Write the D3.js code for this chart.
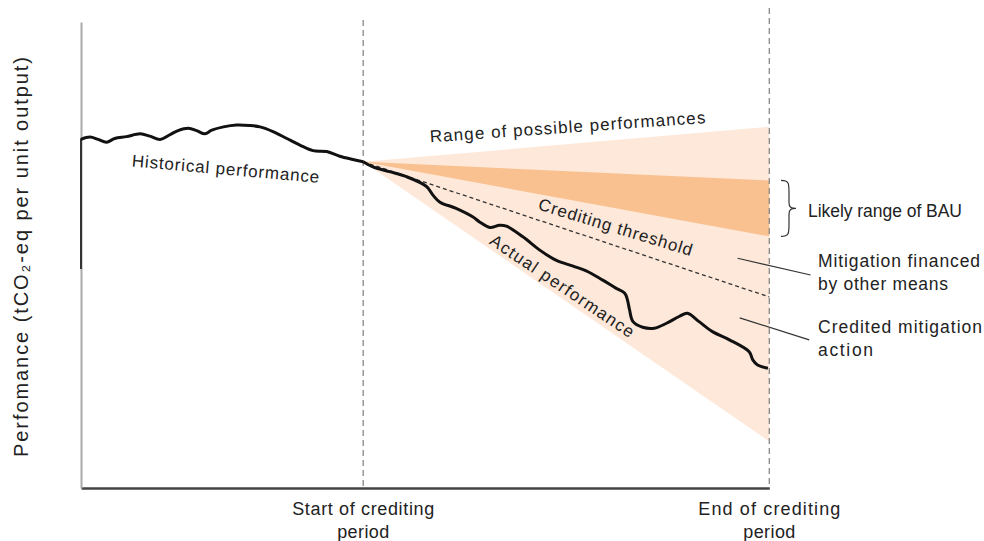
<!DOCTYPE html>
<html>
<head>
<meta charset="utf-8">
<script src="https://cdn.jsdelivr.net/npm/d3@7"></script>
<style>
  body { margin: 0; background: #fff; }
  text { font-family: "Liberation Sans", Arial, sans-serif; fill: #222; }
</style>
</head>
<body>
<svg id="drawing_region"></svg>
<script>
// time (0 = first observation, 100 = end of crediting period) vs performance
const historical = [
  [0, 74.8], [1.3, 75.3], [2.5, 74.8], [3.7, 74.2], [4.9, 75.0], [6.6, 75.4],
  [8.6, 76.0], [10.0, 75.5], [11.5, 74.8], [12.9, 75.8], [14.1, 76.7], [15.6, 77.2],
  [16.8, 76.7], [18.0, 76.0], [19.0, 76.8], [20.7, 77.5], [22.6, 77.9], [24.5, 77.8],
  [26.0, 77.5], [27.9, 76.5], [29.9, 75.0], [31.8, 73.6], [33.7, 72.4], [35.7, 72.2],
  [37.6, 71.2], [39.5, 70.5], [41.0, 70.0]
];
const actual = [
  [41.0, 70.0], [42.4, 68.9], [44.8, 67.9], [47.3, 66.8], [50.2, 64.7], [51.1, 62.9],
  [52.1, 61.4], [54.5, 60.0], [56.9, 58.2], [57.9, 57.1], [59.4, 55.9], [60.8, 56.4],
  [61.8, 56.2], [64.2, 53.9], [66.6, 51.1], [69.0, 48.9], [71.5, 47.6], [73.4, 46.6],
  [75.8, 44.6], [77.7, 42.9], [79.0, 41.8], [79.4, 40.3], [79.7, 38.2], [80.2, 35.7],
  [81.6, 34.5], [83.3, 34.3], [85.0, 35.3], [86.9, 36.8], [88.1, 37.5], [89.8, 35.7],
  [91.8, 33.5], [94.2, 31.8], [97.1, 29.2], [97.6, 27.5], [98.3, 26.4], [99.8, 25.7]
];
const crediting_start = 41;
const crediting_end = 100;
const origin = [41, 70];
const range_end = [77.5, 10];      // top, bottom of possible performances at end
const bau_end = [66, 54];          // likely range of BAU at end
const threshold_end = 41;
const x_labels = ["Start of crediting", "period", "End of crediting", "period"];
const y_label = "Perfomance (tCO\u2082-eq per unit output)";

const W = 984, H = 541;
const margin = {top: 22, right: 214, bottom: 53, left: 81};

const svg = d3.select('#drawing_region')
    .attr('width', W)
    .attr('height', H);

const xscale = d3.scaleLinear().domain([0, 100]).range([margin.left, W - margin.right - 0.7]);
const yscale = d3.scaleLinear().domain([0, 100]).range([H - margin.bottom, margin.top]);
const y0 = yscale(0);

// fan: range of possible performances
const area_pts = (top, bottom) => [origin, [crediting_end, top], [crediting_end, bottom]];
const poly = d3.line().x(d => xscale(d[0])).y(d => yscale(d[1]));

svg.append('path')
    .attr('d', poly(area_pts(range_end[0], range_end[1])) + 'Z')
    .attr('fill', '#fde8d9');

svg.append('path')
    .attr('d', poly(area_pts(bau_end[0], bau_end[1])) + 'Z')
    .attr('fill', '#f9c18f');

// crediting threshold
svg.append('path')
    .attr('d', poly([origin, [crediting_end, threshold_end]]))
    .attr('stroke', '#333')
    .attr('stroke-width', 1.3)
    .attr('stroke-dasharray', '4,3')
    .attr('fill', 'none');

// vertical dashed lines
svg.append('line')
    .attr('x1', xscale(crediting_start)).attr('x2', xscale(crediting_start))
    .attr('y1', 20).attr('y2', y0)
    .attr('stroke', '#888').attr('stroke-width', 1.3).attr('stroke-dasharray', '6,4');
svg.append('line')
    .attr('x1', xscale(crediting_end)).attr('x2', xscale(crediting_end))
    .attr('y1', 8).attr('y2', y0)
    .attr('stroke', '#888').attr('stroke-width', 1.3).attr('stroke-dasharray', '6,4');

// axes (no ticks)
const xaxis = d3.axisBottom(xscale).ticks(0).tickSizeOuter(0);
const yaxis = d3.axisLeft(yscale).ticks(0).tickSizeOuter(0);
const xg = svg.append('g').attr('transform', `translate(0, ${y0})`).call(xaxis);
xg.select('.domain').attr('stroke', '#444').attr('stroke-width', 2.5);
const yg = svg.append('g').attr('transform', `translate(${margin.left}, 0)`).call(yaxis);
yg.select('.domain').attr('stroke', '#aaa').attr('stroke-width', 2);
// darker stretch of the y axis, as in the original
svg.append('line')
    .attr('x1', margin.left).attr('x2', margin.left)
    .attr('y1', yscale(75)).attr('y2', yscale(47))
    .attr('stroke', '#333').attr('stroke-width', 2);

// performance lines
const curve = d3.line()
    .x(d => xscale(d[0]))
    .y(d => yscale(d[1]))
    .curve(d3.curveCatmullRom);

svg.append('path')
    .attr('d', curve(historical))
    .attr('stroke', '#111').attr('stroke-width', 3).attr('fill', 'none')
    .attr('stroke-linejoin', 'round');
svg.append('path')
    .attr('d', curve(actual))
    .attr('stroke', '#111').attr('stroke-width', 3).attr('fill', 'none')
    .attr('stroke-linejoin', 'round');

// in-plot labels
const inner = [
  {t: "Historical performance", x: 21.0, y: 68.2, r: 5, len: 188},
  {t: "Range of possible performances", x: 70.7, y: 77.2, r: -4, len: 276},
  {t: "Crediting threshold", x: 77.6, y: 55.7, r: 17, len: 160},
  {t: "Actual performance", x: 69.8, y: 43.1, r: 34, len: 170}
];
inner.forEach(d => {
  const px = xscale(d.x), py = yscale(d.y);
  svg.append('text')
      .attr('transform', `translate(${px}, ${py}) rotate(${d.r})`)
      .attr('text-anchor', 'middle')
      .attr('dominant-baseline', 'middle')
      .attr('font-size', '17px')
      .attr('textLength', d.len)
      .text(d.t);
});

// leader lines
const leaders = [[[95.4, 49.3], [106.0, 45.7]], [[95.7, 36.5], [105.8, 31.8]]];
leaders.forEach(l => {
  svg.append('path').attr('d', poly(l))
      .attr('stroke', '#333').attr('stroke-width', 1.2).attr('fill', 'none');
});

// brace for BAU
const bx = xscale(101.7), bt = yscale(bau_end[0]), bb = yscale(bau_end[1]);
const bm = (bt + bb) / 2;
svg.append('path')
    .attr('d', `M${bx},${bt} C${bx+8},${bt} ${bx+8},${bt+3} ${bx+8},${bt+12} L${bx+8},${bm-6}
       C${bx+8},${bm-1} ${bx+10},${bm} ${bx+15},${bm} C${bx+10},${bm} ${bx+8},${bm+1} ${bx+8},${bm+6}
       L${bx+8},${bb-12} C${bx+8},${bb-3} ${bx+8},${bb} ${bx},${bb}`)
    .attr('stroke', '#333').attr('stroke-width', 1.2).attr('fill', 'none');

// right-hand labels
const right = [
  {t: "Likely range of BAU", x: 808, y: 212, len: 154},
  {t: "Mitigation financed", x: 818, y: 262, len: 162},
  {t: "by other means", x: 818, y: 285, len: 130},
  {t: "Credited mitigation", x: 818, y: 328, len: 164},
  {t: "action", x: 818, y: 351, len: 55}
];
svg.selectAll('.rlab')
    .data(right)
    .enter()
    .append('text')
    .attr('x', d => d.x)
    .attr('y', d => d.y)
    .attr('dominant-baseline', 'middle')
    .attr('font-size', '17.5px')
    .attr('textLength', d => d.len)
    .text(d => d.t);

// x labels
[[crediting_start, 0], [crediting_start, 1], [crediting_end, 2], [crediting_end, 3]].forEach((p, i) => {
  svg.append('text')
      .attr('x', xscale(p[0]))
      .attr('y', i % 2 === 0 ? 510 : 533)
      .attr('text-anchor', 'middle')
      .attr('dominant-baseline', 'middle')
      .attr('font-size', '18px')
      .attr('textLength', i % 2 === 0 ? 142 : 52)
      .text(x_labels[p[1]]);
});

// y label
svg.append('text')
    .attr('transform', `translate(23, ${(margin.top + y0) / 2 + 2}) rotate(-90)`)
    .attr('text-anchor', 'middle')
    .attr('dominant-baseline', 'middle')
    .attr('font-size', '20px')
    .attr('textLength', 400)
    .text(y_label);
</script>
</body>
</html>
